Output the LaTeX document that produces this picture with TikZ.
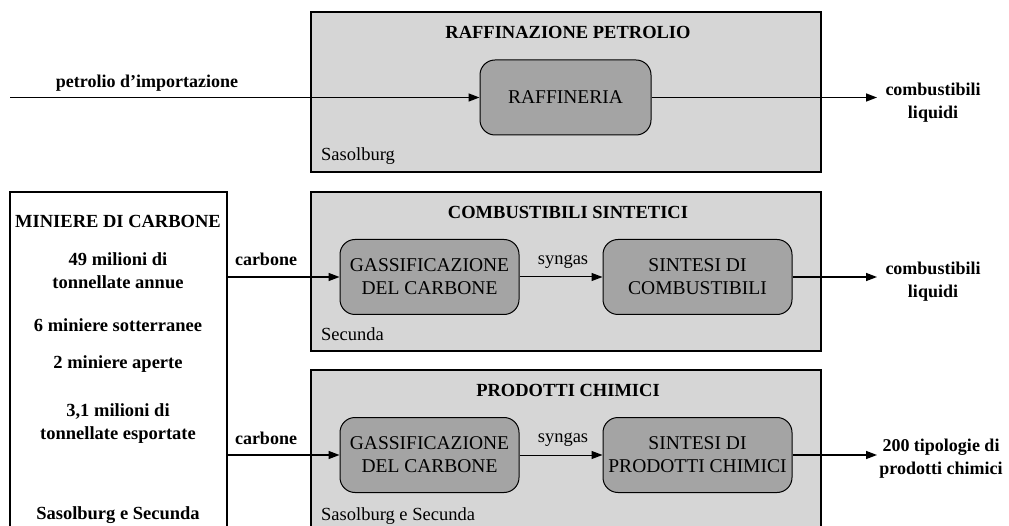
\documentclass[tikz,border=0pt]{standalone}
\usepackage{fontspec}
\setmainfont{Liberation Serif}
\usetikzlibrary{arrows.meta}

\definecolor{areafill}{HTML}{D6D6D6}
\definecolor{unitfill}{HTML}{A4A4A4}

\tikzset{
  area/.style={draw=black, line width=1.3pt, fill=areafill, inner sep=0pt},
  unit/.style={draw=black, line width=1pt, fill=unitfill, rounded corners=15pt,
    align=center, inner sep=0pt, font=\fontsize{19.5}{23}\selectfont},
  minebox/.style={draw=black, line width=1.3pt, fill=white, inner sep=0pt},
  title/.style={font=\fontsize{18.5}{23}\selectfont\bfseries, anchor=base, inner sep=0pt},
  place/.style={font=\fontsize{18.5}{23}\selectfont, anchor=base west, inner sep=0pt},
  flowlabel/.style={font=\fontsize{18}{23}\selectfont\bfseries, anchor=base, inner sep=0pt, align=center},
  gaslabel/.style={font=\fontsize{18.5}{23}\selectfont, anchor=base, inner sep=0pt},
  minetext/.style={font=\fontsize{18.5}{23}\selectfont\bfseries, anchor=base, inner sep=0pt, align=center},
  flow/.style={line width=1.4pt, -{Triangle[length=11pt,width=8pt]}},
  inner flow/.style={line width=1pt, -{Triangle[length=11pt,width=8pt]}}
}

\begin{document}
\begin{tikzpicture}[x=1pt, y=-1pt]
\clip (0,0) rectangle (1009,526);
\useasboundingbox (0,0) rectangle (1009,526);

% process areas
\node[area, minimum width=510pt, minimum height=160pt] (arearaff) at (566,92) {};
\node[area, minimum width=510pt, minimum height=159pt] (areafuel) at (566,271.5) {};
\node[area, minimum width=510pt, minimum height=170pt] (areachem) at (566,455) {};

% coal mines box
\node[minebox, minimum width=217pt, minimum height=350pt] (mines) at (118.5,367) {};

% area titles
\node[title] (traff) at (568,39) {RAFFINAZIONE PETROLIO};
\node[title] (tfuel) at (568,219) {COMBUSTIBILI SINTETICI};
\node[title] (tchem) at (568,396) {PRODOTTI CHIMICI};

% locations
\node[place] (lraff) at (321,161) {Sasolburg};
\node[place] (lfuel) at (321,341) {Secunda};
\node[place] (lchem) at (321,520) {Sasolburg e Secunda};

% process units
\node[unit, minimum width=171pt, minimum height=75pt] (raff) at (565.5,97.5) {RAFFINERIA};
\node[unit, minimum width=179pt, minimum height=75pt] (gas1) at (429.5,277) {GASSIFICAZIONE\\DEL CARBONE};
\node[unit, minimum width=189pt, minimum height=75pt] (syn1) at (697.5,277) {SINTESI DI\\COMBUSTIBILI};
\node[unit, minimum width=179pt, minimum height=75pt] (gas2) at (429.5,455) {GASSIFICAZIONE\\DEL CARBONE};
\node[unit, minimum width=189pt, minimum height=75pt] (syn2) at (697.5,455) {SINTESI DI\\PRODOTTI CHIMICI};

% mine figures (two-line texts sit on the baseline of their last line)
\node[minetext] (mtitle) at (118,228) {MINIERE DI CARBONE};
\node[minetext] (mprod) at (118,289) {49 milioni di\\tonnellate annue};
\node[minetext] (munder) at (118,332) {6 miniere sotterranee};
\node[minetext] (mopen) at (118,369) {2 miniere aperte};
\node[minetext] (mexp) at (118,439) {3,1 milioni di\\tonnellate esportate};
\node[minetext] (mloc) at (118,519) {Sasolburg e Secunda};

% free ends of the flows
\coordinate (oilin) at (10,97.5);
\coordinate (out1) at (877,97.5);
\coordinate (out2) at (877,277);
\coordinate (out3) at (877,455);

% flows
\draw[flow] (oilin) -- (raff.west);
\draw[flow] (raff.east) -- (out1);
\draw[flow] (mines.east |- gas1.west) -- (gas1.west);
\draw[inner flow] (gas1.east) -- (syn1.west);
\draw[flow] (syn1.east) -- (out2);
\draw[flow] (mines.east |- gas2.west) -- (gas2.west);
\draw[inner flow] (gas2.east) -- (syn2.west);
\draw[flow] (syn2.east) -- (out3);

% flow labels
\node[flowlabel] (loil) at (147,88) {petrolio d'importazione};
\node[flowlabel] (lout1) at (933,119) {combustibili\\liquidi};
\node[flowlabel] (lcoal1) at (266,266) {carbone};
\node[gaslabel] (lsyn1) at (563,265) {syngas};
\node[flowlabel] (lout2) at (933,298) {combustibili\\liquidi};
\node[flowlabel] (lcoal2) at (266,444) {carbone};
\node[gaslabel] (lsyn2) at (563,442) {syngas};
\node[flowlabel] (lout3) at (941,474) {200 tipologie di\\prodotti chimici};
\end{tikzpicture}
\end{document}
